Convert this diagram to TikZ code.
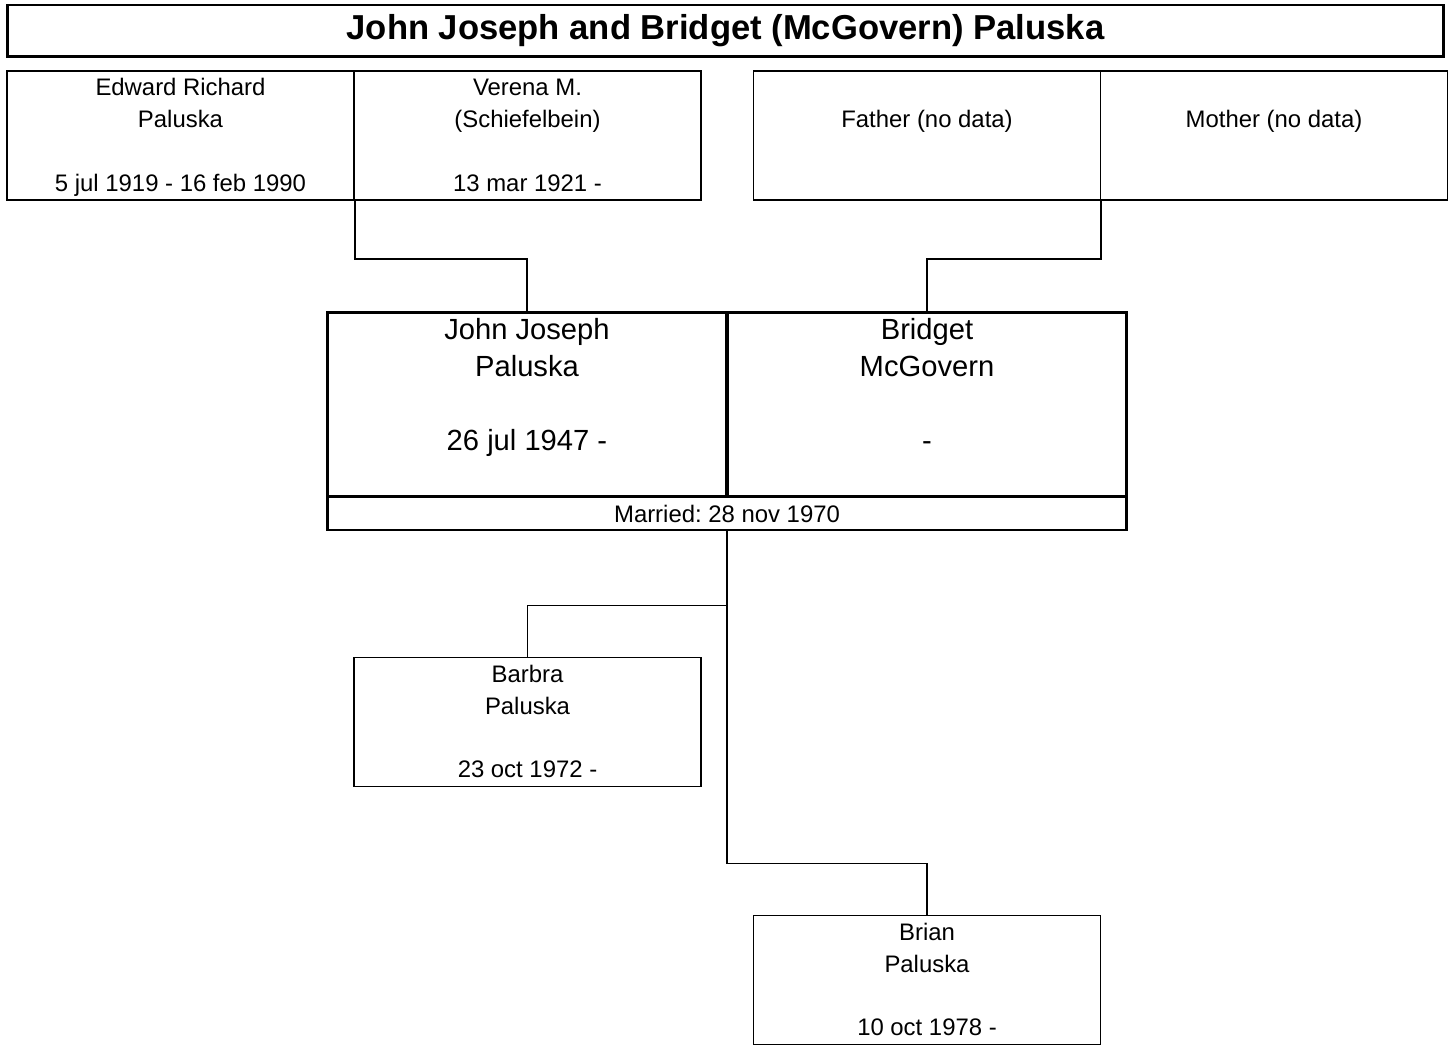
\documentclass[tikz,border=0pt]{standalone}
\usepackage{fontspec}
\setmainfont{Liberation Sans}
\frenchspacing
\usepackage{tikz}
\usetikzlibrary{positioning,calc}

\newcommand{\smalltext}{\fontsize{13.6}{18.2}\selectfont}
\newcommand{\bigtext}{\fontsize{16.6}{21}\selectfont}
\newcommand{\lstrut}{\rule[-0.25\baselineskip]{0pt}{\baselineskip}}
\newcommand{\persontext}[3]{\lstrut#1\\\lstrut#2\\\lstrut\\\lstrut#3}
\newcommand{\spousetext}[3]{\lstrut#1\\\lstrut#2\\\lstrut\\\lstrut#3\\\lstrut}

\begin{document}
\begin{tikzpicture}[
  x=0.02cm, y=-0.02cm,
  every node/.style={font=\smalltext},
  titlebox/.style={draw,line width=1.7pt,minimum width=28.74cm,minimum height=1.04cm,
                   inner sep=0pt,font=\bfseries\fontsize{19.7}{24}\selectfont},
  personbox/.style={draw,line width=1pt,minimum width=6.94cm,minimum height=2.58cm,
                    align=center,inner sep=0pt},
  spousebox/.style={draw,line width=1.7pt,minimum width=8cm,minimum height=3.7cm,
                    align=center,inner sep=0pt,font=\bigtext},
  marriedbox/.style={draw,line width=1.7pt,minimum width=16cm,minimum height=0.66cm,
                     inner sep=0pt},
  link/.style={draw,line width=1pt},
]
  \useasboundingbox (0,0) rectangle (1451,1047);

  % Title
  \node[titlebox] (title) at (725.5,31) {John Joseph and Bridget (McGovern) Paluska};

  % Grandparents
  \node[personbox] (edward) at (180.5,135.5)
    {\persontext{Edward Richard}{Paluska}{5 jul 1919 - 16 feb 1990}};
  \node[personbox] (verena) at (527.5,135.5)
    {\persontext{Verena M.}{(Schiefelbein)}{13 mar 1921 -}};
  \node[personbox] (father) at (927,135.5)
    {\persontext{}{Father (no data)}{}};
  \node[personbox] (mother) at (1274,135.5)
    {\persontext{}{Mother (no data)}{}};

  % Couple
  \node[spousebox] (john) at (527,404.5)
    {\spousetext{John Joseph}{Paluska}{26 jul 1947 -}};
  \node[spousebox] (bridget) at (927,404.5)
    {\spousetext{Bridget}{McGovern}{-}};
  \node[marriedbox] (married) at (727,513.5) {Married: 28 nov 1970};

  % Children
  \node[personbox] (barbra) at (527.5,722)
    {\persontext{Barbra}{Paluska}{23 oct 1972 -}};
  \node[personbox] (brian) at (927,980)
    {\persontext{Brian}{Paluska}{10 oct 1978 -}};

  % Connectors
  \draw[link] (edward.south east) -- ++(0,58) -| (john.north);
  \draw[link] (father.south east) -- ++(0,58) -| (bridget.north);
  \draw[link] (married.south) -- ++(0,74) -| (barbra.north);
  \draw[link] (married.south) -- ++(0,332) -| (brian.north);
\end{tikzpicture}
\end{document}
